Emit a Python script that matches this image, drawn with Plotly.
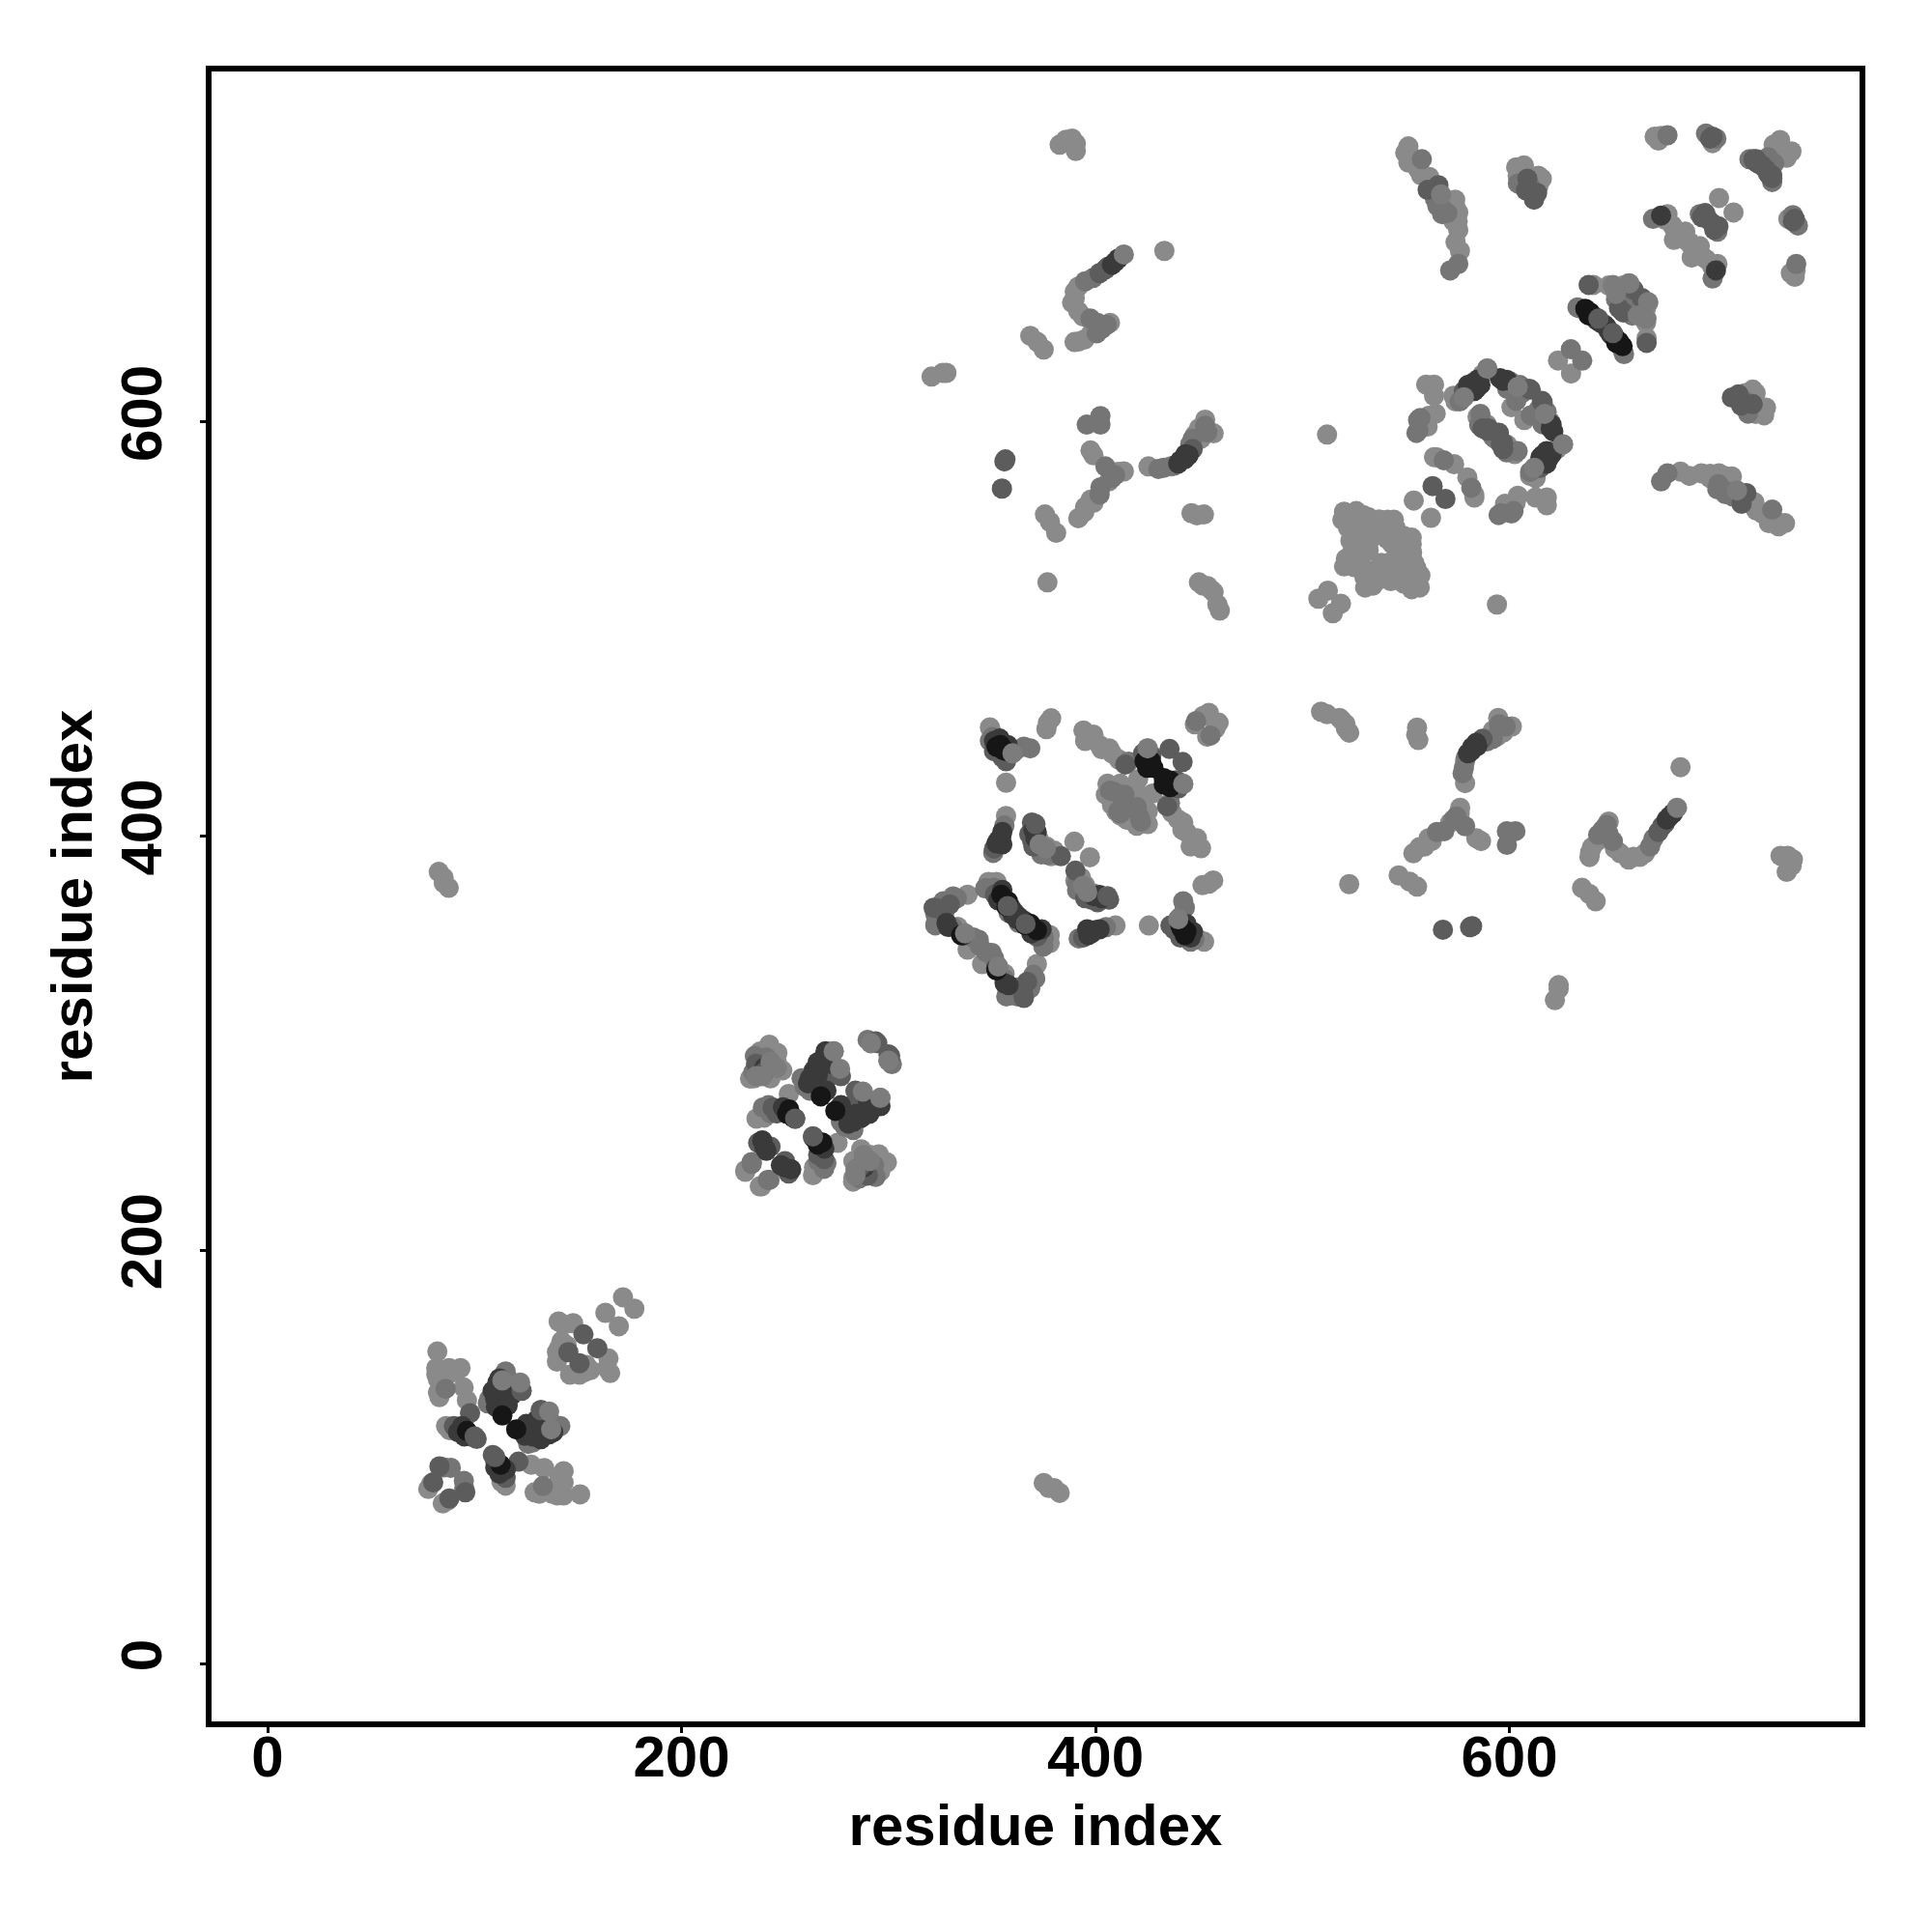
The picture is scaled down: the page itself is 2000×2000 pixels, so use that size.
import plotly.graph_objects as go

# Residue contacts (i, j) with j > i; the map is symmetric.
light = [
 (82,151),(81.5,143),(82.3,137.5),(82.3,131.3),(87.7,143),(93.2,143),(94.7,133.6),(96.3,127.4),(77.6,84.6),(86.2,115),
 (81.5,140),(84,140),(84,135),(90,141),(83,129),(79,87),(88,113),
 (140.6,165.5),(147.6,164.7),(144.5,153.9),(139.8,150.7),(139.8,146.1),(171.7,177.2),(163.2,169.7),(143,164),(142,156),(141,153),
 (82.7,382.7),(85.1,377.4),(87.5,375),(85,380),
 (242.4,299.2),(246.3,295.3),(233.1,282.9),(248.7,286.8),(251.8,275.4),(236.2,263.5),(230.8,238.6),(237.8,230.8),
 (238,296),(243,283),(235,283),(246,291),(240,264),
 (349,452.5),(356.8,425.8),(376.3,451.7),(378.6,456.9),(377,454.8),(394.2,451),(397.3,447),(401.9,444),(406.6,442.4),(411.3,437),
 (350,450),(399,449),(395,446),(403,442),(408,440),
 (405.8,425.3),(412,425.3),(420.6,427.6),(415.1,423),(425.2,442.4),(454.8,459.5),(448,454),(452,458),
 (410,418),(417,417),(421,420),(405,420),(408,415),(412,410),
 (356.8,409.7),(372.4,398.9),(376.3,395),(378.6,390.3),(389.8,397.3),(375,392),(380,393),(373,396),
 (348.3,377.9),(352.2,377.9),(338.2,371.7),(333.5,356.1),(338.9,351.4),(338.2,345.2),(349,375),(340,347),
 (511.9,594),(559.8,618.1),(563.6,618.1),(563.6,612.7),(564.4,604.1),(560.5,597.9),(573,612.7),(589.3,625.9),(601,607.2),(584.6,602.6),
 (574,610),(587,623),(602,615),(596,591),(599,589),(561,603),(558,599),(565,583),
 (563.6,583.1),(573.3,579.7),(553.8,562.1),
 (520.1,556.7),(525.5,552),(529.4,555.1),(534.9,551.3),(541.1,552.8),(544.2,552.8),(519.3,552.8),(523.2,542.7),(531.8,541.1),(527.1,544.3),(539.5,547.4),
 (523.2,531.8),(520.1,530.3),(533.3,544),(507.7,514.7),(512.3,518.6),(544,544),(548,537),
 (522,555),(526,557),(532,554),(537,553),(522,549),(526,547),(530,549),(535,546),(541,543.5),(524,537),(527,539),(521,534),(525,530),(528,533),(529,537),(543,548),(545,549),(532,538),(524,542.6),(527,541),
 (551.2,733.2),(549.7,730.1),(551.2,725.4),(561.3,718.4),(557.4,719.2),(569.1,707.5),(573.8,707.5),(575.3,701.3),(575.3,692.8),(576.1,682.7),(573,697),
 (552,729),(554,727),(556,722),(572,699),(574,704),(575,697),(574,687),
 (603.3,723.1),(605.6,720),(615.7,717.6),(611.1,715.3),(607,724),(604,719),(614,714),(614,719),
 (670.2,737.9),(673.3,738.3),(698.2,734.8),(730.8,736.3),(727.7,734),(672,736),
 (676.4,700.5),(678.7,695.1),(679.5,688.1),(685,692),(688,685),(701.3,708.3),(675,698),(680,693),(683,690),(687,687),(690,684),
 (640.6,666.3),(650,666.3),(657.7,667.1),(653,664),(623.5,629.8),(648,666),(655,666),
 (382.7,734),(388.7,737),(385.7,736.4),(390.5,731),(390.5,734.5),(433.3,682.7),(391.7,665.5),(388.7,657.7),(391.7,653.6),(394.6,639.9),(389.9,638.7),
 (390,663),(390,660),(394,651),(407,648),(398,643),(392,639),
 (368.5,641.7),(372,638.7),(375,635.1),(320.8,622),(326.2,623.8),(328,623.8),
 (397.6,586.3),(413.7,576.2),(406.5,571.4),(397.6,562.5),(391.7,553.6),(394.6,556.5),(399,584),(399,561),(395,559),(411,576),
 (425.6,578.6),(436.3,578.6),(448.2,594),(457.1,594.6),(453,601.2),(450,597),(451,592),
 (375.6,555.4),(378,551.8),(381,546.5),(376.8,522.6),(446.4,556),(452.4,555.4),(449,555),
 (450,522.6),(454.2,520.8),(457.1,517.9),(458.9,511.9),(460.1,509),(452,521),(456,519),
]
mid = [
 (88.5,94.8),(115,141.4),(106.4,125.9),(119.6,135.2),(85,95),(86,133),(107,128),(113,127),(116,138),
 (235.4,293.8),(234.7,286),(239.3,268.9),(263.4,286),(259.5,279),(273.5,296.1),(289.9,301.6),(300,291.5),(233.9,242.5),(241.7,233.9),
 (241,293),(238,285),(262,277),(258,283),(243,266),(242,270),
 (350.1,447.8),(359.9,440.1),(365.4,443.2),(368.5,442.4),(408.9,421.4),(448.6,455.6),(349,446),(361,441),(416,436),
 (356,405.1),(350.6,391.9),(373.9,391.1),(377,391),(407,422),(414,420),(413,414),(411,412),
 (331.2,370.9),(326.5,368.5),(322.6,362.3),(322.6,356.9),(325.7,360.8),(343.6,349.9),(346.7,374.8),(351,375),(327,363),(323,359),(331,356),(341,351),(344,347),(329,368),(333,370),(358,363),
 (555.9,601),(555.1,594.8),(578.4,612.7),(600.2,619.7),(604.9,617.3),(603.3,610.3),(585.4,598.7),(568.3,581.6),(576,610),(599,616),(606,614),(605,618),(586,604),(592,593),(556,596),(557,602),
 (557.7,727),(565.2,704.4),(567.5,700.5),(575.3,676.4),(571.4,673.3),(604.1,715.3),(564,708),(567,704),(570,701),(610,714),
 (676.4,738.6),(695,739.4),(669.4,698.2),(692,700.5),(716,727),(700,737),(725,728),
 (651.5,659.3),(632.9,655.4),(629.7,635.2),(634,655),(652,662),(655,657),
 (398.8,669.6),(397.6,650),(405.4,647),(400.6,642.9),(404.8,578.6),(409.5,574.4),(402.4,568.5),(430.4,577.4),(445.8,589.3),(453,598.2),(395,668),(401,648),(403,645),(402,565),(408,573),(433,578),(438,579),(447,592),(454,595),
 (395.8,598.8),(402.4,602.9),(402.4,598.8),
]
dim = [
 (97.8,121.2),(83,95.5),(80,87.8),(152.6,159.3),(145.3,150.7),(122.7,132.1),(111.8,130.5),(90,115),(98,110),
 (237.8,289.1),(244,268.9),(247.9,267.4),(254.9,263.5),(293.8,300.8),(300,294.6),(237,251.8),(270.4,282.9),(236,290),(266,279),(277,284),(246,266),(243,250),
 (356.8,436.2),(414.4,434.6),(435.8,442.1),(351,441),(355,438),(427,439),(423,440),
 (369.3,406.6),(369.3,398.1),(383.3,390.3),(351.4,371.7),(351,394),(368,401),(370,395),(372,352),
 (321.8,365.4),(329.6,367),(324,365),(580,615.8),(609.5,616.1),(589.3,595.9),(594.9,594.8),(562.9,569.1),(578,615),(610.3,615.7),(587,597),(590,597),
 (565.7,714.5),(560.5,712.2),(608.7,717.6),(613.4,710.7),(611.9,707.5),(608,712),
 (719.2,727),(718,727),(726.2,718.4),(694.6,701),(638.3,666.3),(658.5,665.6),(698.2,737.9),(697,737),(722,724),(725,720),(693,699),(698,696),(660,664),(653,655),
 (356,581),(356.5,582),(354.8,567.9),(404.8,673.8),(406,675),(402,672),(447,587),
]
dark = [
 (111,136),(108.7,132),(110.3,124.3),(94,115),(112,138),(114,134),(118,130),(110,128),(116,125),(92,112),(95,110),
 (240.1,288.3),(269.6,296.1),(265.8,290.7),(261.1,280.6),(265.8,284.5),(240.1,249.5),(268,292),(264,287),(262,283),(270,277),(272,290),(249,269),(239,253),(241,248),
 (353.7,447.1),(357.6,444),(354.5,399.6),(352.2,396.5),(371.6,402),(357.6,366.2),(365.4,359.2),(328.8,356.1),(351,446),(355,402),(355,396),(370,403),(356,369),(360,362),(363,361),(369,355),(328,358),(336,352),
 (595.5,621.2),(582.3,618.9),(584.6,620.5),(642.2,649.2),(673.3,699.8),(584,616),(586,618),(597,620),(644,648),(647,646),(580,618),(583,615),(598.7,620.4),
 (409.5,677.4),(441,581.5),(443.5,584.5),(411,679),(408,676),(440,580),(445,584),(443,582),(371,399),(353,398),(355,374),(353,369),
]
black = [
 (96.3,112.6),(113.4,120.1),(251,265.8),(267.3,274.3),(252,268),(254,264),
 (352.2,443.2),(355.3,441.6),(426.8,436.2),(423.7,436.2),(354.5,371.7),(368.5,357.7),(335.1,352.2),(354,444),(357,441),(366,357),(425,433),(428,433),
 (636.7,654.7),(638.3,651.6),(639,653),(641,651),
]
cap_dim = [
 (101,108.8),(122.7,132),(100,110),(254.9,263.5),(357.6,366.2),(643,650),(405.8,371),(240,286),
]
cap = [
 (113.4,137),(122,136),(276.6,287.6),(273.5,296),(300,291.5),(243,291),(239,284),(236,284),(246,288),
 (359.9,440),(373,396),(376,394),(337,353),(604,617),(589.3,625.9),(578,612),(650,666),(658,667),(651.5,662),(413.7,681),(425.2,442.4),(567,710),
]
tick_values = [0, 200, 400, 600]
tick_labels = ["0", "200", "400", "600"]
axis_title = "residue index"

layers = [(light, "#8a8a8a"), (mid, "#757575"), (dim, "#5c5c5c"), (dark, "#3a3a3a"), (black, "#161616"),
          (cap_dim, "#5c5c5c"), (cap, "#7c7c7c")]

fig = go.Figure()
for points, colour in layers:
    i_values = [p[0] for p in points]
    j_values = [p[1] for p in points]
    fig.add_trace(go.Scatter(
        x=i_values + j_values, y=j_values + i_values, mode="markers",
        marker=dict(size=21, color=colour, line=dict(width=0)),
        showlegend=False, hoverinfo="skip"))

font = dict(family="Liberation Sans", size=60, color="black", weight="bold")
common = dict(tickmode="array", tickvals=tick_values, ticktext=tick_labels,
              showgrid=False, zeroline=False, showline=True, mirror=True,
              linecolor="black", linewidth=6, ticks="outside", ticklen=6,
              tickwidth=3, tickcolor="black", tickfont=font, automargin=False)
fig.update_layout(
    width=2000, height=2000, autosize=False,
    paper_bgcolor="white", plot_bgcolor="white",
    margin=dict(l=211, r=83, t=66, b=226, pad=0),
    xaxis=dict(range=[-27.1, 769.2], ticklabelstandoff=-27, title=dict(text=axis_title, font=font, standoff=19), **common),
    yaxis=dict(range=[-27.7, 769.4], tickangle=-90, ticklabelstandoff=16,
               title=dict(text=axis_title, font=font, standoff=0), **common),
)
fig.write_html("out.html")
